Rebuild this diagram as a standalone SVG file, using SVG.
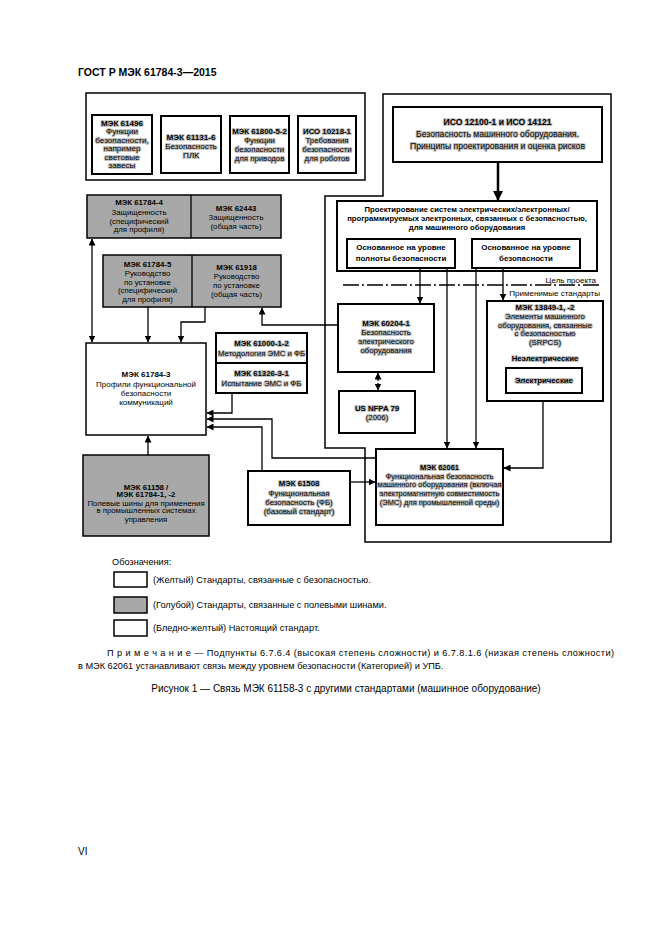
<svg xmlns="http://www.w3.org/2000/svg" width="661" height="935" viewBox="0 0 661 935">
<style>
text{font-family:"Liberation Sans",Arial,sans-serif;fill:#000}
.t{font-size:7.8px;text-anchor:middle}
.b{font-weight:bold}
.hl{stroke:#c2c2c2;stroke-width:2;stroke-linejoin:round;paint-order:stroke}
.yb{fill:#fff;stroke:#000;stroke-width:2}
.gb{fill:#a8a8a8;stroke:#000;stroke-width:1.5}
.pb{fill:#fff;stroke:#000;stroke-width:1.5}
.fr{fill:none;stroke:#000;stroke-width:1.5}
.c{fill:none;stroke:#000;stroke-width:1.3}
.dash{fill:none;stroke:#000;stroke-width:1.3;stroke-dasharray:3 2}
.sep{fill:none;stroke:#000;stroke-width:1.3;stroke-dasharray:16 3 2 3}
.txt{font-size:9.2px}
</style>
<defs>
<marker id="ah" markerWidth="7" markerHeight="7" refX="6.5" refY="3.5" orient="auto" markerUnits="userSpaceOnUse"><path d="M0,0 L7,3.5 L0,7 z" fill="#000"/></marker>
<marker id="as" markerWidth="7" markerHeight="7" refX="0.5" refY="3.5" orient="auto" markerUnits="userSpaceOnUse"><path d="M7,0 L0,3.5 L7,7 z" fill="#000"/></marker>
<marker id="ahb" markerWidth="10" markerHeight="10" refX="9" refY="5" orient="auto" markerUnits="userSpaceOnUse"><path d="M0,0 L10,5 L0,10 z" fill="#000"/></marker>
</defs>
<rect width="661" height="935" fill="#fff"/>
<text x="78" y="76" style="font-size:10.5px;font-weight:bold">ГОСТ Р МЭК 61784-3—2015</text>

<g id="frames">
<rect class="fr" x="86" y="93" width="279" height="87"/>
<path class="fr" d="M383,94 H611 V542 H365 V448 H325 V196 H383 Z"/>
</g>

<g id="n61496"><rect class="yb" x="92" y="115" width="60" height="59"/>
<text class="t" style="font-size:8.1px"><tspan class="b hl" x="122" y="125.5">МЭК 61496</tspan><tspan class="hl" x="122" y="134">Функции</tspan><tspan class="hl" x="122" y="142.5">безопасности,</tspan><tspan class="hl" x="122" y="151">например</tspan><tspan class="hl" x="122" y="159.5">световые</tspan><tspan class="hl" x="122" y="168">завесы</tspan></text></g>
<g id="n61131"><rect class="yb" x="161" y="116" width="60" height="57"/>
<text class="t" style="font-size:8.1px"><tspan class="b hl" x="191" y="140">МЭК 61131-6</tspan><tspan class="hl" x="191" y="149">Безопасность</tspan><tspan class="hl" x="191" y="158">ПЛК</tspan></text></g>
<g id="n61800"><rect class="yb" x="230" y="116" width="59" height="57"/>
<text class="t"><tspan class="b hl" x="259.5" y="134">МЭК 61800-5-2</tspan><tspan class="hl" x="259.5" y="143">Функции</tspan><tspan class="hl" x="259.5" y="152">безопасности</tspan><tspan class="hl" x="259.5" y="161">для приводов</tspan></text></g>
<g id="n10218"><rect class="yb" x="298" y="116" width="58" height="57"/>
<text class="t"><tspan class="b hl" x="327" y="134">ИСО 10218-1</tspan><tspan class="hl" x="327" y="143">Требования</tspan><tspan class="hl" x="327" y="152">безопасности</tspan><tspan class="hl" x="327" y="161">для роботов</tspan></text></g>

<g id="n12100"><rect class="yb" x="393" y="107" width="209" height="55"/>
<text class="t" style="font-size:8.6px"><tspan class="b hl" x="497.5" y="125">ИСО 12100-1 и ИСО 14121</tspan><tspan class="hl" x="497.5" y="137">Безопасность машинного оборудования.</tspan><tspan class="hl" x="497.5" y="149">Принципы проектирования и оценка рисков</tspan></text></g>

<g id="ndesign"><rect class="yb" x="337" y="201" width="260" height="70"/>
<text class="t b" style="font-size:7.7px"><tspan x="467" y="212">Проектирование систем электрических/электронных/</tspan><tspan x="467" y="221">программируемых электронных, связанных с безопасностью,</tspan><tspan x="467" y="230">для машинного оборудования</tspan></text></g>
<g id="nsil"><rect class="yb" x="347" y="239" width="108" height="29"/>
<text class="t b" style="font-size:7.9px"><tspan x="401" y="250">Основанное на уровне</tspan><tspan x="401" y="261">полноты безопасности</tspan></text></g>
<g id="npl"><rect class="yb" x="472" y="239" width="108" height="29"/>
<text class="t b" style="font-size:7.9px"><tspan x="526" y="250">Основанное на уровне</tspan><tspan x="526" y="261">безопасности</tspan></text></g>

<g id="separator">
<path class="sep" d="M343,285 H600"/>
<text x="596" y="283" style="font-size:8px;text-anchor:end">Цель проекта</text>
<text x="600" y="296" style="font-size:8px;text-anchor:end">Применимые стандарты</text>
</g>

<g id="n61784-4"><rect class="gb" x="87" y="195" width="194" height="43"/><path class="c" d="M191,195 V238"/>
<text class="t"><tspan class="b" x="139" y="205">МЭК 61784-4</tspan><tspan x="139" y="214.5">Защищенность</tspan><tspan x="139" y="223.5">(специфический</tspan><tspan x="139" y="232">для профиля)</tspan></text>
<text class="t"><tspan class="b" x="236" y="211">МЭК 62443</tspan><tspan x="236" y="220">Защищенность</tspan><tspan x="236" y="229">(общая часть)</tspan></text></g>

<g id="n61784-5"><rect class="gb" x="103" y="255" width="178" height="52"/><path class="c" d="M192,255 V307"/>
<text class="t"><tspan class="b" x="147.5" y="266.5">МЭК 61784-5</tspan><tspan x="147.5" y="275.5">Руководство</tspan><tspan x="147.5" y="284.5">по установке</tspan><tspan x="147.5" y="293">(специфический</tspan><tspan x="147.5" y="301.5">для профиля)</tspan></text>
<text class="t"><tspan class="b" x="236.5" y="269.5">МЭК 61918</tspan><tspan x="236.5" y="278.5">Руководство</tspan><tspan x="236.5" y="287.5">по установке</tspan><tspan x="236.5" y="296.5">(общая часть)</tspan></text></g>

<g id="n61784-3"><rect class="pb" x="86" y="343" width="120" height="92"/>
<text class="t" style="font-size:8px"><tspan class="b" x="146" y="377">МЭК 61784-3</tspan><tspan x="146" y="386.5">Профили функциональной</tspan><tspan x="146" y="395.5">безопасности</tspan><tspan x="146" y="404.5">коммуникаций</tspan></text></g>

<g id="n61000"><rect class="yb" x="216" y="333" width="91" height="30"/>
<text class="t"><tspan class="b hl" x="261.5" y="346">МЭК 61000-1-2</tspan><tspan class="hl" x="261.5" y="355.5">Методология ЭМС и ФБ</tspan></text></g>
<g id="n61326"><rect class="yb" x="216" y="363" width="91" height="30"/>
<text class="t"><tspan class="b hl" x="261.5" y="376">МЭК 61326-3-1</tspan><tspan class="hl" x="261.5" y="386">Испытание ЭМС и ФБ</tspan></text></g>

<g id="n60204"><rect class="yb" x="338" y="304" width="96" height="68"/>
<text class="t"><tspan class="b hl" x="386" y="326">МЭК 60204-1</tspan><tspan class="hl" x="386" y="335">Безопасность</tspan><tspan class="hl" x="386" y="344">электрического</tspan><tspan class="hl" x="386" y="353">оборудования</tspan></text></g>
<g id="nnfpa"><rect class="yb" x="339" y="391" width="76" height="42"/>
<text class="t"><tspan class="b hl" x="377" y="411">US NFPA 79</tspan><tspan class="hl" x="377" y="420">(2006)</tspan></text></g>

<g id="n13849"><rect class="yb" x="487" y="301" width="116" height="100"/>
<text class="t"><tspan class="b hl" x="545" y="309.5">МЭК 13849-1, -2</tspan><tspan class="hl" x="545" y="318.5">Элементы машинного</tspan><tspan class="hl" x="545" y="327.5">оборудования, связанные</tspan><tspan class="hl" x="545" y="336">с безопасностью</tspan><tspan class="hl" x="545" y="345">(SRPCS)</tspan><tspan class="b hl" x="545" y="361">Неэлектрические</tspan></text>
<rect class="yb" x="506" y="368" width="76" height="25"/>
<text class="t b hl" x="544" y="383">Электрические</text></g>

<g id="n61158"><rect class="gb" x="83" y="455" width="126" height="81"/>
<text class="t"><tspan class="b" x="146" y="489.5">МЭК 61158 /</tspan><tspan class="b" x="146" y="497">МЭК 61784-1, -2</tspan><tspan x="146" y="505.5">Полевые шины для применения</tspan><tspan x="146" y="513">в промышленных системах</tspan><tspan x="146" y="521.5">управления</tspan></text></g>

<g id="n61508"><rect class="yb" x="248" y="471" width="102" height="54"/>
<text class="t"><tspan class="b hl" x="299" y="486">МЭК 61508</tspan><tspan class="hl" x="299" y="496">Функциональная</tspan><tspan class="hl" x="299" y="505">безопасность (ФБ)</tspan><tspan class="hl" x="299" y="514">(базовый стандарт)</tspan></text></g>

<g id="n62061"><rect class="yb" x="376" y="449" width="127" height="76"/>
<text class="t" style="font-size:7.5px"><tspan class="b hl" x="439.5" y="470">МЭК 62061</tspan><tspan class="hl" x="439.5" y="478.5">Функциональная безопасность</tspan><tspan class="hl" x="439.5" y="487">машинного оборудования (включая</tspan><tspan class="hl" x="439.5" y="496">электромагнитную совместимость</tspan><tspan class="hl" x="439.5" y="504.5">(ЭМС) для промышленной среды)</tspan></text></g>

<g id="connectors">
<path class="c" style="stroke-width:2.5" d="M498,162 V200" marker-end="url(#ahb)"/>
<path class="c" d="M420,268 V303" marker-end="url(#ah)"/>
<path class="c" d="M447,268 V448" marker-end="url(#ah)"/>
<path class="c" d="M476,268 V448" marker-end="url(#ah)"/>
<path class="c" d="M503,268 V300" marker-end="url(#ah)"/>
<path class="c" d="M543,401 V468 H504" marker-end="url(#ah)"/>
<path class="c" d="M350,482 H375" marker-end="url(#ah)"/>
<path class="c" d="M376,458 H272 V419 H207" marker-end="url(#ah)"/>
<path class="c" d="M262,471 V427 H207" marker-end="url(#ah)"/>
<path class="c" d="M232,393 V413 H207" marker-end="url(#ah)"/>
<path class="c" d="M338,325 H262 V308" marker-end="url(#ah)"/>
<path class="c" d="M205,307 V322 H181 V342" marker-end="url(#ah)"/>
<path class="c" d="M148,307 V342" marker-end="url(#ah)"/>
<path class="c" d="M92,342 V239" marker-start="url(#as)" marker-end="url(#ah)"/>
<path class="c" d="M148,455 V436" marker-end="url(#ah)"/>
<path class="dash" d="M378,373 V390" marker-start="url(#as)" marker-end="url(#ah)"/>
</g>

<g id="legend">
<text x="112" y="565" class="txt">Обозначения:</text>
<rect class="yb" x="114" y="572" width="33" height="15" style="stroke-width:1.5"/>
<text x="153" y="583" class="txt">(Желтый) Стандарты, связанные с безопасностью.</text>
<rect class="gb" x="114" y="597" width="33" height="16"/>
<text x="153" y="608" class="txt">(Голубой) Стандарты, связанные с полевыми шинами.</text>
<rect class="pb" x="114" y="620" width="33" height="16"/>
<text x="153" y="631" class="txt">(Бледно-желтый) Настоящий стандарт.</text>
</g>

<g id="notes">
<text x="107" y="656" style="font-size:9.2px" textLength="507" lengthAdjust="spacing">П р и м е ч а н и е  — Подпункты 6.7.6.4 (высокая степень сложности) и 6.7.8.1.6 (низкая степень сложности)</text>
<text x="78" y="669" style="font-size:9.2px">в МЭК 62061 устанавливают связь между уровнем безопасности (Категорией) и УПБ.</text>
<text x="346" y="692" style="font-size:10px;text-anchor:middle">Рисунок 1 — Связь МЭК 61158-3 с другими стандартами (машинное оборудование)</text>
<text x="78" y="855" style="font-size:10px">VI</text>
</g>
</svg>
